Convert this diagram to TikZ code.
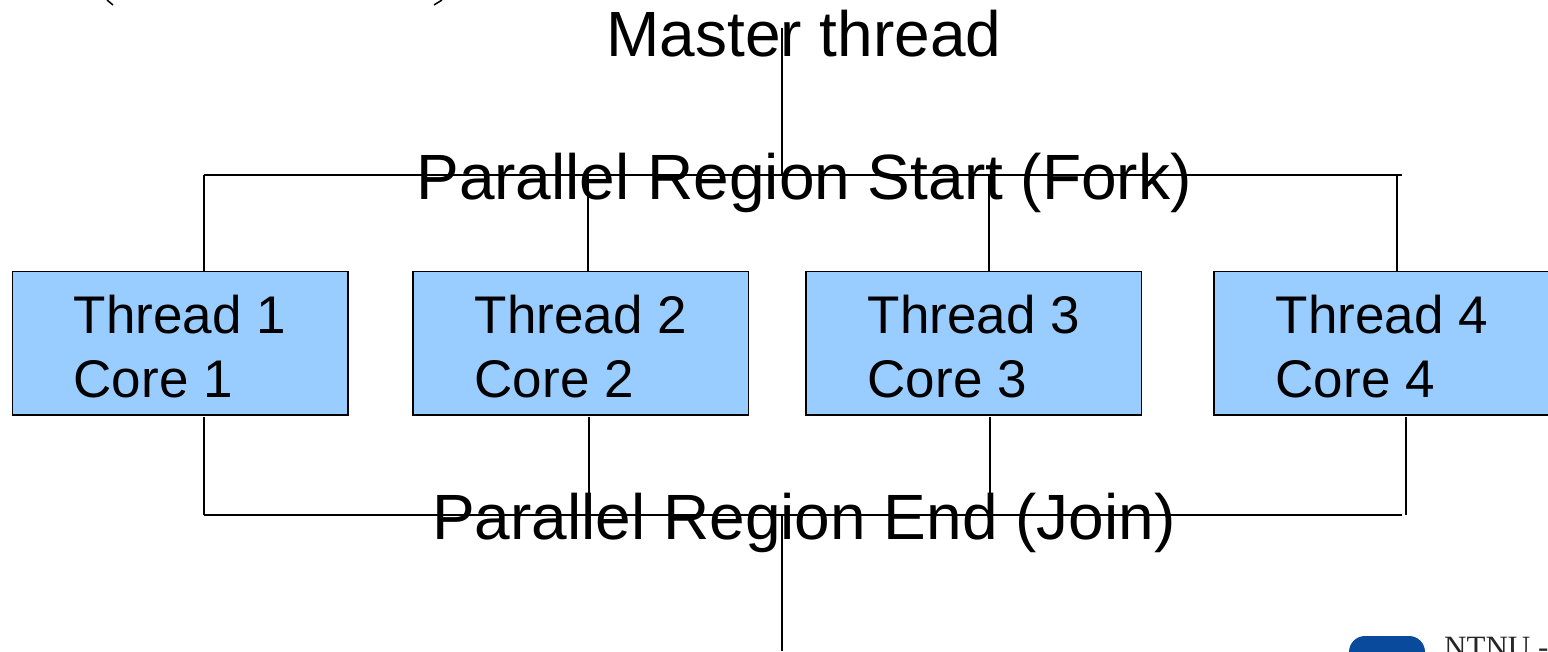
\documentclass[tikz,border=0pt]{standalone}
\usepackage{fontspec}
\setmainfont{Liberation Sans}
\newfontfamily\logofont{Liberation Serif}
\definecolor{boxblue}{HTML}{99CCFF}
\definecolor{logoblue}{HTML}{0A4A9C}
\tikzset{
  threadbox/.style={draw=black,line width=1.5pt,fill=boxblue,minimum width=335.5pt,minimum height=143.5pt,inner sep=0pt,outer sep=0pt},
  boxtext/.style={anchor=base west,inner sep=0pt,font=\fontsize{53}{53}\selectfont},
  title/.style={inner sep=0pt,anchor=base,font=\fontsize{64}{64}\selectfont},
  conn/.style={draw=black,line width=1.7pt}
}
\begin{document}
\begin{tikzpicture}[x=1pt,y=-1pt]
\useasboundingbox (0,0) rectangle (1548,651);
\clip (0,0) rectangle (1548,651);
\fill[white] (0,0) rectangle (1548,651);
% boxes
\node[threadbox] (b1) at (180,343) {};
\node[threadbox] (b2) at (580.5,343) {};
\node[threadbox] (b3) at (973.5,343) {};
\node[threadbox] (b4) at (1381.5,343) {};
\foreach \n/\x in {1/73.5,2/474.5,3/867.5,4/1275.5}{
  \node[boxtext] (t\n) at (\x,333.5) {Thread \n};
  \node[boxtext] (c\n) at (\x,397.5) {Core \n};
}
% titles
\node[title] (master) at (804,56.5) {Master thread};
\node[title] (fork) at (804,199) {Parallel Region Start (Fork)};
\node[title] (join) at (804,539) {Parallel Region End (Join)};
% free ends
\coordinate (ml) at (782,28);
\coordinate (mf) at (782,175);
\coordinate (fl) at (204,175);
\coordinate (fr) at (1402,175);
\coordinate (jl) at (204,515);
\coordinate (jr) at (1402,515);
\coordinate (jm) at (782,515);
\coordinate (out) at (782,651);
\coordinate (f2) at (588,175);
\coordinate (f3) at (989,175);
\coordinate (f4) at (1397,175);
\coordinate (e1) at (204,417);
\coordinate (e2) at (589,417);
\coordinate (e3) at (990,417);
\coordinate (e4) at (1406,417);
% connectors
\draw[conn] (ml) -- (mf);
\draw[conn] (fl) -- (fr);
\draw[conn] (fl) -- (fl |- b1.north);
\draw[conn] (f2) -- (f2 |- b2.north);
\draw[conn] (f3) -- (f3 |- b3.north);
\draw[conn] (f4) -- (f4 |- b4.north);
\draw[conn] (jl) -- (jr);
\draw[conn] (e1) -- (e1 |- jl);
\draw[conn] (e2) -- (e2 |- jl);
\draw[conn] (e3) -- (e3 |- jl);
\draw[conn] (e4) -- (e4 |- jl);
\draw[conn] (jm) -- (out);
% cut-off marks at the top edge
\draw[line width=1.5pt] (107,0) -- (113,5);
\draw[line width=1.5pt] (442,0) -- (434,5);
% logo, cut by the lower edge
\fill[logoblue,rounded corners=16pt] (1349,636) rectangle (1425,700);
\node[anchor=base west,inner sep=0pt,text=black!85,font=\logofont\fontsize{31}{31}\selectfont] (logo) at (1444,657) {NTNU -};
\end{tikzpicture}
\end{document}
